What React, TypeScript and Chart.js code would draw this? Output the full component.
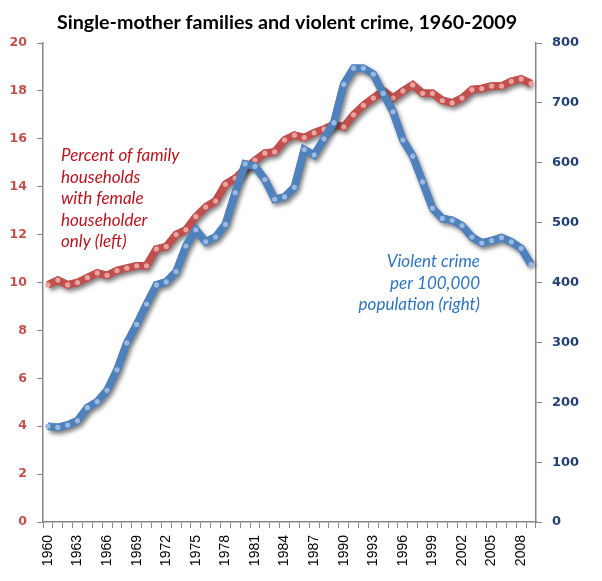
import { useEffect, useRef } from 'react';
import { Chart, registerables, type Plugin } from 'chart.js';

Chart.register(...registerables);

const years: string[] = [];
for (let y = 1960; y <= 2009; y++) years.push(String(y));

// percent of family households with female householder only (left axis)
const femaleHouseholder = [
  9.9, 10.1, 9.9, 10.0, 10.2, 10.4, 10.3, 10.5, 10.6, 10.7,
  10.7, 11.4, 11.5, 12.0, 12.2, 12.75, 13.15, 13.4, 14.1, 14.35,
  14.75, 15.1, 15.4, 15.45, 15.95, 16.15, 16.05, 16.25, 16.4, 16.6,
  16.5, 17.0, 17.4, 17.7, 18.0, 17.7, 18.0, 18.25, 17.9, 17.9,
  17.6, 17.5, 17.7, 18.05, 18.1, 18.2, 18.2, 18.4, 18.5, 18.3,
];

// violent crime per 100,000 population (right axis)
const violentCrime = [
  160, 158, 162, 169, 191, 201, 220, 254, 299, 330,
  364, 396, 401, 418, 461, 488, 468, 476, 497, 550,
  598, 594, 572, 539, 543, 559, 622, 613, 640, 667,
  731, 758, 758, 748, 716, 685, 638, 611, 568, 524,
  507, 504, 495, 476, 466, 470, 475, 468, 457, 430,
];

const titleText = 'Single-mother families and violent crime, 1960-2009';
const redNote = ['Percent of family', 'households', 'with female', 'householder', 'only (left)'];
const blueNote = ['Violent crime', 'per 100,000', 'population (right)'];

// soft drop shadow under each line (points are drawn afterwards without it)
const lineShadow: Plugin<'line'> = {
  id: 'lineShadow',
  beforeDatasetDraw(chart, args) {
    const ctx = chart.ctx;
    const meta = args.meta;
    if (!meta.dataset) return;
    ctx.save();
    ctx.shadowColor = 'rgba(0,0,0,0.5)';
    ctx.shadowBlur = 4;
    ctx.shadowOffsetX = 2;
    ctx.shadowOffsetY = 3;
    meta.dataset.draw(ctx, chart.chartArea);
    ctx.restore();
  },
};

const textLayer: Plugin<'line'> = {
  id: 'textLayer',
  afterDraw(chart) {
    const ctx = chart.ctx;
    ctx.save();
    ctx.fillStyle = '#000';
    ctx.font = 'bold 19.7px Lato';
    ctx.textAlign = 'center';
    ctx.textBaseline = 'middle';
    ctx.fillText(titleText, 287, 23);

    ctx.font = 'italic 17px Lato';
    ctx.fillStyle = '#B8141E';
    ctx.textAlign = 'left';
    redNote.forEach((t, i) => ctx.fillText(t, 61, 156 + i * 21.5));

    ctx.fillStyle = '#2F74C0';
    ctx.textAlign = 'right';
    blueNote.forEach((t, i) => ctx.fillText(t, 480, 262 + i * 21.5));
    ctx.restore();
  },
};

export default function App() {
  const canvasRef = useRef<HTMLCanvasElement>(null);
  const chartRef = useRef<Chart | null>(null);

  useEffect(() => {
    if (!canvasRef.current) return;
    if (chartRef.current) chartRef.current.destroy();
    const ctx = canvasRef.current.getContext('2d');
    if (!ctx) return;

    chartRef.current = new Chart(ctx, {
      type: 'line',
      data: {
        labels: years,
        datasets: [
          {
            label: 'Violent crime per 100,000 population',
            data: violentCrime,
            yAxisID: 'y1',
            borderColor: '#4F81BD',
            borderWidth: 7.5,
            pointRadius: 2.6,
            pointBorderWidth: 0,
            pointBackgroundColor: '#9BB8DE',
            tension: 0,
          },
          {
            label: 'Percent of family households with female householder',
            data: femaleHouseholder,
            yAxisID: 'y',
            borderColor: '#C0504D',
            borderWidth: 7.5,
            pointRadius: 2.6,
            pointBorderWidth: 0,
            pointBackgroundColor: '#E9A3A1',
            tension: 0,
          },
        ],
      },
      options: {
        responsive: false,
        animation: false,
        layout: { padding: { top: 43, left: 0, right: 0, bottom: 0 } },
        plugins: {
          legend: { display: false },
          title: { display: false },
          tooltip: { enabled: false },
        },
        scales: {
          x: {
            offset: true,
            grid: { offset: true, drawOnChartArea: false, tickLength: 6, color: '#868686' },
            border: { color: '#868686', width: 1.5 },
            ticks: {
              autoSkip: false,
              minRotation: 90,
              maxRotation: 90,
              padding: 7,
              color: '#000',
              font: { family: 'Liberation Sans', size: 14 },
              callback: (_v, i) => (i % 3 === 0 ? years[i] : ''),
            },
            afterFit: (s) => { s.height = 59; },
          },
          y: {
            position: 'left',
            min: 0,
            max: 20,
            grid: { drawOnChartArea: false, tickLength: 6, color: '#868686' },
            border: { color: '#868686', width: 1.5 },
            ticks: {
              stepSize: 2,
              padding: 10,
              color: '#C0504D',
              font: { family: 'DejaVu Sans', size: 12.5, weight: 'bold' },
            },
            afterFit: (s) => { s.width = 43; },
          },
          y1: {
            position: 'right',
            min: 0,
            max: 800,
            grid: { drawOnChartArea: false, tickLength: 6, color: '#868686' },
            border: { color: '#868686', width: 1.5 },
            ticks: {
              stepSize: 100,
              padding: 10,
              color: '#243F74',
              font: { family: 'DejaVu Sans', size: 13, weight: 'bold' },
            },
            afterFit: (s) => { s.width = 66; },
          },
        },
      },
      plugins: [lineShadow, textLayer],
    });

    return () => {
      if (chartRef.current) {
        chartRef.current.destroy();
        chartRef.current = null;
      }
    };
  }, []);

  return (
    <div style={{ position: 'fixed', left: 0, top: 0, width: 602, height: 581, background: '#fff' }}>
      <canvas ref={canvasRef} width={602} height={581} style={{ width: 602, height: 581 }} />
    </div>
  );
}
